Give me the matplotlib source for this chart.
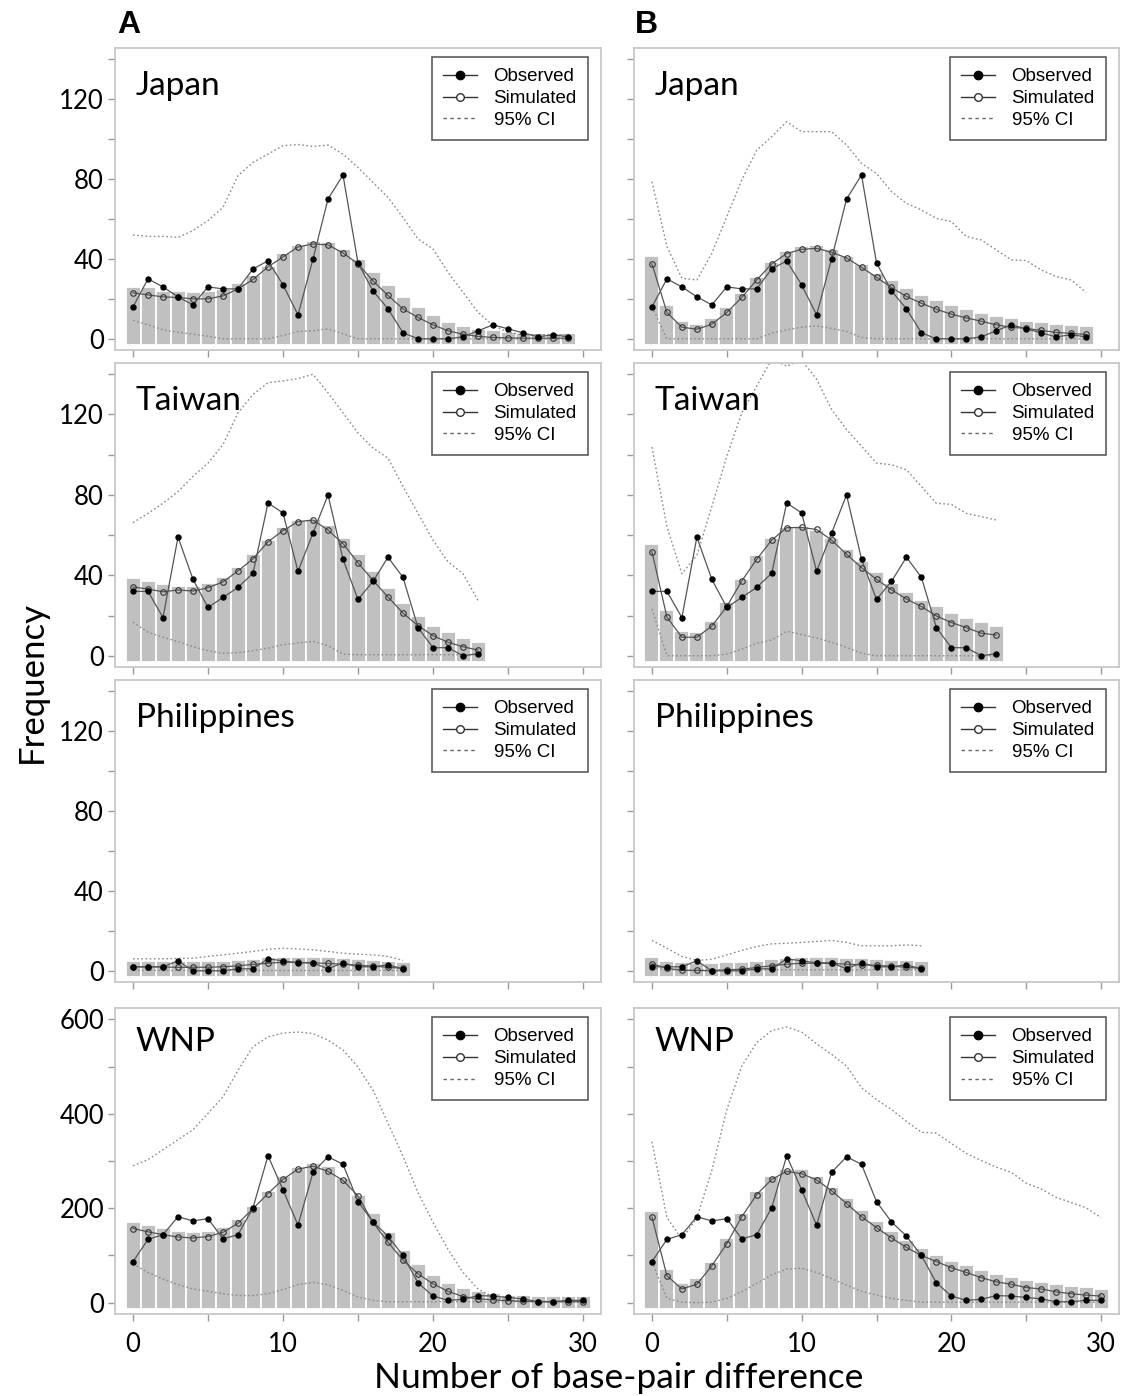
import numpy as np
import matplotlib.pyplot as plt
from matplotlib.lines import Line2D

plt.rcParams['font.family'] = ['Lato', 'DejaVu Sans']

# ---- data ----
# Japan
japan_obs = [16, 30, 26, 21, 17, 26, 25, 25, 35, 39, 27, 12, 40, 70, 82, 38, 24, 15, 3, 0,
             0, 0, 1, 4, 7, 5, 3, 1, 2, 1]
japan_sim_a = [23, 22, 21, 20.7, 20, 20, 21.5, 25, 29.7, 36, 41, 46, 47.5, 47, 43, 37.5, 29, 21.7,
               15, 10.7, 7, 4, 2.3, 1.2, 0.7, 0.5, 0.3, 0.3, 0.3, 0.3]
japan_bar_a = [26, 25.7, 24, 24, 23.5, 24, 25, 28, 32, 36.7, 43, 47, 49, 48.7, 45, 40, 33.7, 26.7,
               21, 15.7, 11.7, 8.5, 6.3, 5, 4.2, 3.3, 3, 2.8, 2.8, 2.8]
japan_hi_a = [52, 51.3, 51.3, 50.8, 54.2, 59.2, 65.8, 81.7, 88.3, 92.5, 96.7, 97.3, 96.3, 97, 92.5,
              85.8, 78.3, 70.8, 60.8, 50, 45, 33.3, 23.3, 13.3, 6.7, 3.3, 2, 2, 2, 2]
japan_lo_a = [9.2, 7, 4.5, 3.3, 2.3, 1.3, 0, 0, 0, 0, 1.7, 3.7, 4, 5, 2.5, 0, 0, 0, 0, 0,
              0, 0, 0, 0, 0, 0, 0, 0, 0, 0]
japan_sim_b = [37.5, 13.2, 5.8, 4.8, 7.3, 13.2, 20.7, 29.5, 37.5, 42.7, 44.8, 45.3, 43.3, 40.5, 35.8,
               30.8, 25.7, 21.2, 17.8, 14.8, 12.3, 10.5, 8.8, 7, 5.8, 5.2, 4.2, 3.2, 2.7, 2.2]
japan_bar_b = [41.7, 16.8, 8.7, 7.5, 10.2, 15.7, 22.8, 30.8, 38.3, 43.8, 46.5, 46.8, 45, 41.5, 37.7,
               33.2, 29.2, 25.3, 22, 19.2, 16.7, 14.7, 12.8, 11.3, 10.2, 9, 8.2, 7.3, 7, 6.5]
japan_hi_b = [78.7, 46.2, 30.3, 29.5, 42.8, 61.2, 79.5, 94.5, 101.2, 108.7, 103.7, 103.7, 103.7, 97,
              87.8, 82.8, 73.7, 67.8, 64.5, 60.3, 58.7, 51.2, 49.5, 44.5, 39.5, 39.2, 34.5, 31.2,
              29.5, 23.2]
japan_lo_b = [16, 0, 0, 0, 0, 0, 0, 0, 2.8, 4.5, 5.8, 6.5, 5.2, 3.7, 0.7, 0, 0, 0, 0, 0,
              0, 0, 0, 0, 0, 0, 0, 0, 0, 0]

# Taiwan
taiwan_obs = [32, 32, 19, 59, 38, 24, 29, 34, 41, 76, 71, 42, 61, 80, 48, 28, 37, 49, 39, 14,
              4, 4, 0, 1]
taiwan_sim_a = [34.2, 33.2, 31.8, 32.7, 32.2, 33.8, 36.7, 42.2, 48.2, 56.7, 62.2, 66.7, 67.5, 62.5,
                55.8, 46.2, 37.5, 29.2, 21.2, 15, 10, 6.7, 4.5, 2.8]
taiwan_bar_a = [38.7, 37.3, 35.8, 34.7, 34.7, 36.2, 39.2, 44.2, 50.8, 57.8, 63.8, 67.5, 67.8, 65,
                58.7, 50.8, 42, 33.7, 26.2, 20, 15, 11.7, 8.8, 7]
taiwan_hi_a = [66.2, 70.8, 75.8, 81.7, 89.2, 95.8, 105, 120.8, 130, 135.8, 136.7, 137.8, 140, 130.8,
               120.8, 110.8, 103.3, 98.3, 84.2, 70.8, 57.5, 46.7, 40.8, 27.5]
taiwan_lo_a = [16.7, 11.7, 9.2, 7, 4.5, 2.5, 1.2, 1.5, 2.5, 3.8, 5.5, 6.3, 7.2, 5, 0.8, 0.5,
               0.5, 0.5, 0.5, 0.5, 0.5, 0.5, 0.5, 0.5]
taiwan_sim_b = [51.7, 19.2, 9.2, 9.2, 14.7, 24.5, 37.2, 48, 57.5, 63.7, 63.8, 62.8, 57.5, 50.5,
                43.8, 38, 32.8, 28.2, 24.5, 19.8, 16.5, 14, 11.2, 10.3]
taiwan_bar_b = [55.5, 22.8, 12.2, 11.7, 17.5, 26.7, 38.3, 50, 58.7, 64.2, 64.7, 62.5, 58.7, 53,
                47, 41.7, 36.3, 31.7, 27.8, 24.5, 21.2, 18.8, 16.7, 14.7]
taiwan_hi_b = [103.8, 64.2, 40.8, 50, 74.2, 99.2, 120.8, 134.2, 147.5, 144, 147, 137.5, 122.5,
               112.5, 104.2, 95.8, 95, 92.5, 84.2, 75.8, 75.3, 70.8, 69.2, 67.5]
taiwan_lo_b = [23.3, 0, 0, 0, 0, 0.8, 3.3, 6.2, 7.8, 12.2, 10.5, 8.8, 6.7, 4.2, 1.2, 0,
               0, 0, 0, 0, 0, 0, 0, 0]

# Philippines
phil_obs = [2, 2, 2, 5, 0, 0, 0, 1, 1, 6, 5, 4, 4, 1, 4, 2, 2, 3, 1]
phil_sim_a = [2, 2, 2, 1.7, 1.8, 1.8, 2, 2.5, 3.2, 3.8, 4.3, 4.2, 4, 3.7, 3.3, 2.8, 2.3, 1.8, 1.2]
phil_bar_a = [4.7, 4.7, 4.7, 4.7, 4.7, 4.7, 4.8, 5.2, 5.8, 6.7, 6.8, 6.8, 6.8, 6.8, 6.3, 5.8,
              5.5, 5, 4.5]
phil_hi_a = [6, 6, 6, 6.2, 6.3, 7.2, 8, 8.8, 9.7, 10.8, 11.3, 11, 10.5, 9.7, 8.8, 8.3, 8, 7.2, 5.2]
phil_lo_a = [0.5, 0.5, 0.5, 0.5, 0.5, 0.5, 0.5, 0.5, 0.5, 0.5, 0.5, 0.5, 0.5, 0.5, 0.5, 0.5,
             0.5, 0.5, 0.5]
phil_sim_b = [3.5, 1.3, 0.2, 0.2, 0, 0.5, 0.8, 1.7, 2.5, 3.3, 3.8, 3.8, 3.7, 3.3, 3, 2.7, 2.3,
              1.8, 1.2]
phil_bar_b = [6.8, 4.7, 4.2, 3.8, 3.8, 4.2, 4.5, 5, 5.8, 6.5, 6.7, 6.8, 6.8, 6.5, 6.2, 5.8, 5.5,
              5.2, 4.7]
phil_hi_b = [15.2, 11.3, 7.2, 5.2, 5.8, 8, 10.2, 12.2, 13.5, 13.8, 14.2, 14.7, 15.2, 14.2, 12.5,
             12.5, 12.5, 13, 12.5]
phil_lo_b = [1.5, 0.5, 0.5, 0.5, 0.5, 0.5, 0.5, 0.5, 0.5, 0.5, 0.5, 0.5, 0.5, 0.5, 0.5, 0.5,
             0.5, 0.5, 0.5]

# WNP
wnp_obs = [87, 134, 144, 182, 173, 178, 135, 144, 201, 311, 239, 164, 276, 309, 293, 214, 171,
           141, 100, 42, 14, 5, 7, 15, 14, 11, 8, 2, 2, 5, 5]
wnp_sim_a = [157, 150, 144, 139, 137, 140, 149, 168, 199, 231, 261, 283, 289, 278, 259, 226, 170,
             128, 90, 61, 40, 24, 13, 8, 6, 4, 3, 2, 2, 2, 2]
wnp_bar_a = [170, 164, 158, 152, 150, 152, 161, 178, 205, 236, 268, 288, 295, 289, 263, 229, 189,
             149, 111, 81, 59, 42, 31, 24, 20, 17, 17, 15, 15, 15, 15]
wnp_hi_a = [290, 303, 324, 345, 366, 401, 436, 492, 542, 563, 571, 573, 570, 556, 535, 499, 450,
            380, 310, 233, 170, 113, 64, 29, 12, 5, 3, 3, 3, 3, 3]
wnp_lo_a = [82, 64, 50, 38, 29, 24, 19, 15, 15, 19, 28, 38, 43, 38, 26, 12, 5, 2, 2, 2, 2, 2, 2,
            2, 2, 2, 2, 2, 2, 2, 2]
wnp_sim_b = [181, 57, 29, 39, 78, 125, 182, 229, 261, 278, 273, 260, 237, 210, 182, 159, 137, 117,
             100, 87, 74, 64, 53, 44, 39, 32, 29, 23, 19, 16, 14]
wnp_bar_b = [194, 71, 42, 53, 87, 136, 190, 237, 269, 283, 283, 269, 246, 221, 196, 173, 151, 133,
             116, 101, 89, 79, 69, 61, 55, 49, 44, 40, 36, 33, 30]
wnp_hi_b = [341, 180, 134, 180, 280, 409, 501, 551, 576, 584, 573, 548, 526, 501, 455, 430, 409,
            384, 361, 359, 337, 316, 301, 287, 276, 253, 241, 223, 212, 201, 180]
wnp_lo_b = [87, 9, 1, 0, 1, 9, 23, 41, 59, 71, 73, 64, 51, 37, 24, 16, 9, 5, 1, 1, 1, 1, 1, 1,
            1, 1, 1, 1, 1, 1, 1]

regions = ['Japan', 'Taiwan', 'Philippines', 'WNP']
col_a = [(japan_obs, japan_sim_a, japan_bar_a, japan_hi_a, japan_lo_a),
         (taiwan_obs, taiwan_sim_a, taiwan_bar_a, taiwan_hi_a, taiwan_lo_a),
         (phil_obs, phil_sim_a, phil_bar_a, phil_hi_a, phil_lo_a),
         (wnp_obs, wnp_sim_a, wnp_bar_a, wnp_hi_a, wnp_lo_a)]
col_b = [(japan_obs, japan_sim_b, japan_bar_b, japan_hi_b, japan_lo_b),
         (taiwan_obs, taiwan_sim_b, taiwan_bar_b, taiwan_hi_b, taiwan_lo_b),
         (phil_obs, phil_sim_b, phil_bar_b, phil_hi_b, phil_lo_b),
         (wnp_obs, wnp_sim_b, wnp_bar_b, wnp_hi_b, wnp_lo_b)]

# ---- layout (pixels) ----
W, H = 1126, 1396
fig = plt.figure(figsize=(W / 100, H / 100), dpi=100)
cols = [(115, 601), (634, 1119)]
rows = [(48, 350), (363, 667), (680, 982), (1008, 1314)]

handles = [Line2D([], [], color='#333333', lw=1, marker='o', ms=6, mfc='black', mec='black'),
           Line2D([], [], color='#333333', lw=1, marker='o', ms=5.5, mfc='white', mec='#333333'),
           Line2D([], [], color='#666666', lw=1, ls=(0, (2.5, 2.5)))]


def draw(ax, name, obs, sim, bars, hi, lo, big, left, bottom):
    ymax = 600 if big else 140
    base = -0.023 * ymax
    x = np.arange(len(bars))
    ax.bar(x, np.array(bars) - base, bottom=base, width=1, color='#c0c0c0',
           edgecolor='white', linewidth=1.3, zorder=1)
    ax.plot(np.arange(len(hi)), hi, ls=(0, (1.2, 1.8)), color='#8a8a8a', lw=1, zorder=2)
    ax.plot(np.arange(len(lo)), lo, ls=(0, (1.2, 1.8)), color='#8a8a8a', lw=1, zorder=2)
    ax.plot(np.arange(len(sim)), sim, color='#555555', lw=0.9, marker='o', ms=4,
            mfc='none', mec='#333333', mew=0.8, zorder=3)
    ax.plot(np.arange(len(obs)), obs, color='#555555', lw=0.9, marker='o', ms=3.6,
            mfc='black', mec='black', zorder=4)
    ax.set_xlim(-1.2, 31.2)
    ax.set_ylim(-0.04 * ymax, 1.04 * ymax)
    ax.set_xticks(range(0, 31, 5))
    ax.set_xticklabels(['0', '', '10', '', '20', '', '30'] if bottom else [])
    if big:
        ax.set_yticks(range(0, 601, 100))
        ylabels = ['0', '', '200', '', '400', '', '600']
    else:
        ax.set_yticks(range(0, 141, 20))
        ylabels = ['0', '', '40', '', '80', '', '120', '']
    ax.set_yticklabels(ylabels if left else [])
    ax.tick_params(direction='out', length=5, width=1, color='#999999',
                   labelsize=18.5, labelcolor='black')
    ax.tick_params(axis='x', pad=8)
    ax.tick_params(axis='y', pad=3)
    for s in ax.spines.values():
        s.set_color('#c8c8c8')
        s.set_linewidth(1.3)
    ax.text(0.043, 0.86 if big else 0.845, name, transform=ax.transAxes, fontsize=24,
            va='baseline', ha='left')
    leg = ax.legend(handles, ['Observed', 'Simulated', '95% CI'], loc='upper right',
                    bbox_to_anchor=(1 - 13 / 486, 1 - 9 / 302), borderaxespad=0,
                    frameon=True, fancybox=False, edgecolor='#333333',
                    prop={'family': 'Liberation Sans', 'size': 13.5},
                    handlelength=1.8, handletextpad=0.9, labelspacing=0.25, borderpad=0.6)
    leg.get_frame().set_linewidth(1.2)


for j, (col, data) in enumerate(zip(cols, [col_a, col_b])):
    for i, (row, name) in enumerate(zip(rows, regions)):
        l, r = col
        t, b = row
        ax = fig.add_axes([l / W, 1 - b / H, (r - l) / W, (b - t) / H])
        obs, sim, bars, hi, lo = data[i]
        draw(ax, name, obs, sim, bars, hi, lo, name == 'WNP', j == 0, i == 3)

fig.text(117 / W, 1 - 25 / H, 'A', fontsize=23, fontweight='bold',
         family='Liberation Sans', va='center', ha='left')
fig.text(635 / W, 1 - 25 / H, 'B', fontsize=23, fontweight='bold',
         family='Liberation Sans', va='center', ha='left')
fig.text(32 / W, 1 - 682 / H, 'Frequency', rotation=90, fontsize=25, va='center', ha='center')
fig.text(619 / W, 1 - 1378 / H, 'Number of base-pair difference', fontsize=25.5,
         va='center', ha='center')

fig.savefig('out.png', dpi=100)
